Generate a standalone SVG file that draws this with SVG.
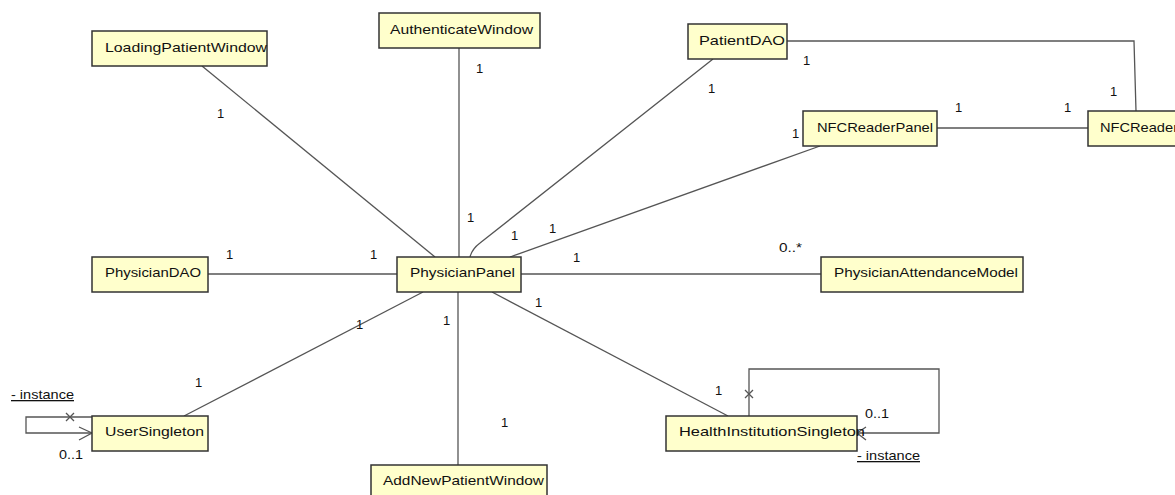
<svg xmlns="http://www.w3.org/2000/svg" width="1175" height="495" viewBox="0 0 1175 495">
<style>
.box{fill:#ffffcc;stroke:#333;stroke-width:1.5}
.name{font-family:"Liberation Sans",Arial,sans-serif;font-size:13px;fill:#111}
.lbl{font-family:"Liberation Sans",Arial,sans-serif;font-size:13px;fill:#111}
.ln{fill:none;stroke:#555;stroke-width:1.3}
</style>
<rect width="1175" height="495" fill="#fff"/>
<g id="connectors">
<line class="ln" x1="202" y1="66" x2="435" y2="257"/>
<line class="ln" x1="459" y1="48" x2="459" y2="257"/>
<path class="ln" d="M713,59 L480,243 Q472,249 470,257"/>
<line class="ln" x1="820" y1="146" x2="510" y2="257"/>
<line class="ln" x1="208" y1="274" x2="397" y2="274"/>
<line class="ln" x1="521" y1="274" x2="821" y2="274"/>
<line class="ln" x1="184" y1="416" x2="423" y2="292"/>
<line class="ln" x1="458" y1="292" x2="458" y2="465"/>
<line class="ln" x1="492" y1="292" x2="728" y2="416"/>
<polyline class="ln" points="787,41 1134,41 1136,111"/>
<line class="ln" x1="937" y1="128" x2="1088" y2="128"/>
<polyline class="ln" points="92,417 26,417 26,433 92,433"/>
<polyline class="ln" points="79,427 92,433 79,440"/>
<path class="ln" d="M66,413 L74,421 M74,413 L66,421"/>
<polyline class="ln" points="749,416 749,369 939,369 939,433 857,433"/>
<polyline class="ln" points="866,427 857,433 866,440"/>
<path class="ln" d="M745,390 L753,398 M753,390 L745,398"/>
<text class="lbl" x="217" y="118">1</text>
<text class="lbl" x="476" y="73">1</text>
<text class="lbl" x="467" y="222">1</text>
<text class="lbl" x="708" y="93">1</text>
<text class="lbl" x="511" y="240">1</text>
<text class="lbl" x="549" y="233">1</text>
<text class="lbl" x="792" y="138">1</text>
<text class="lbl" x="803" y="65">1</text>
<text class="lbl" x="1110" y="96">1</text>
<text class="lbl" x="955" y="112">1</text>
<text class="lbl" x="1064" y="112">1</text>
<text class="lbl" x="226" y="259">1</text>
<text class="lbl" x="370" y="259">1</text>
<text class="lbl" x="573" y="262">1</text>
<text class="lbl" x="779" y="252" textLength="23" lengthAdjust="spacingAndGlyphs">0..*</text>
<text class="lbl" x="356" y="329">1</text>
<text class="lbl" x="195" y="387">1</text>
<text class="lbl" x="443" y="325">1</text>
<text class="lbl" x="501" y="427">1</text>
<text class="lbl" x="535" y="307">1</text>
<text class="lbl" x="715" y="395">1</text>
<text class="lbl" x="11" y="399" text-decoration="underline" textLength="63" lengthAdjust="spacingAndGlyphs">- instance</text>
<text class="lbl" x="59" y="459" textLength="24" lengthAdjust="spacingAndGlyphs">0..1</text>
<text class="lbl" x="865" y="418" textLength="24" lengthAdjust="spacingAndGlyphs">0..1</text>
<text class="lbl" x="857" y="460" text-decoration="underline" textLength="63" lengthAdjust="spacingAndGlyphs">- instance</text>
</g>
<g id="LoadingPatientWindow"><rect class="box" x="92" y="31" width="175" height="35"/><text class="name" x="105" y="52" textLength="162" lengthAdjust="spacingAndGlyphs">LoadingPatientWindow</text></g>
<g id="AuthenticateWindow"><rect class="box" x="379" y="13" width="161" height="35"/><text class="name" x="390" y="34" textLength="143" lengthAdjust="spacingAndGlyphs">AuthenticateWindow</text></g>
<g id="PatientDAO"><rect class="box" x="688" y="24" width="99" height="35"/><text class="name" x="699" y="45" textLength="86" lengthAdjust="spacingAndGlyphs">PatientDAO</text></g>
<g id="NFCReaderPanel"><rect class="box" x="803" y="111" width="134" height="35"/><text class="name" x="817" y="132" textLength="116" lengthAdjust="spacingAndGlyphs">NFCReaderPanel</text></g>
<g id="NFCReader"><rect class="box" x="1088" y="111" width="110" height="35"/><text class="name" x="1100" y="132" textLength="78" lengthAdjust="spacingAndGlyphs">NFCReader</text></g>
<g id="PhysicianDAO"><rect class="box" x="92" y="257" width="116" height="35"/><text class="name" x="105" y="277" textLength="96" lengthAdjust="spacingAndGlyphs">PhysicianDAO</text></g>
<g id="PhysicianPanel"><rect class="box" x="397" y="257" width="124" height="35"/><text class="name" x="410" y="277" textLength="105" lengthAdjust="spacingAndGlyphs">PhysicianPanel</text></g>
<g id="PhysicianAttendanceModel"><rect class="box" x="821" y="257" width="202" height="35"/><text class="name" x="834" y="277" textLength="184" lengthAdjust="spacingAndGlyphs">PhysicianAttendanceModel</text></g>
<g id="UserSingleton"><rect class="box" x="92" y="416" width="116" height="35"/><text class="name" x="105" y="436" textLength="99" lengthAdjust="spacingAndGlyphs">UserSingleton</text></g>
<g id="AddNewPatientWindow"><rect class="box" x="371" y="465" width="176" height="35"/><text class="name" x="383" y="485" textLength="161" lengthAdjust="spacingAndGlyphs">AddNewPatientWindow</text></g>
<g id="HealthInstitutionSingleton"><rect class="box" x="666" y="416" width="191" height="35"/><text class="name" x="679" y="436" textLength="186" lengthAdjust="spacingAndGlyphs">HealthInstitutionSingleton</text></g>
</svg>
